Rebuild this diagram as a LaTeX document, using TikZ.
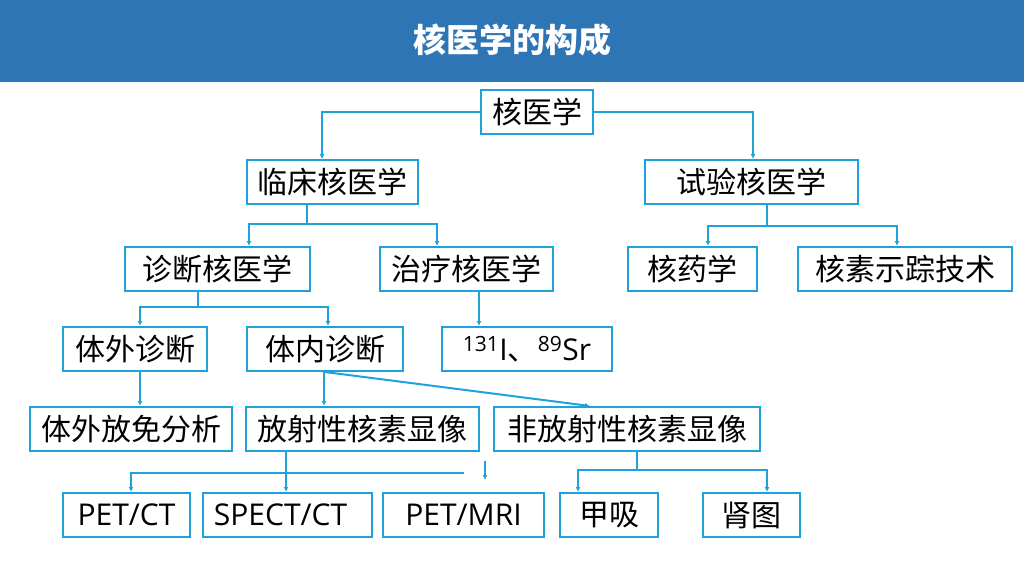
\documentclass[tikz,border=0pt]{standalone}
\usepackage{fontspec}
\newfontfamily\cjk{Noto Sans CJK SC}
\newfontfamily\lat{Open Sans}
\usetikzlibrary{arrows.meta}
\definecolor{lc}{RGB}{30,162,220}
\definecolor{titlebg}{RGB}{46,117,182}
\begin{document}
\begin{tikzpicture}[x=1pt,y=-1pt,
  box/.style={draw=lc, line width=2pt, minimum height=44pt, inner sep=0pt,
    font=\cjk\fontsize{30}{36}\selectfont, text=black},
  latbox/.style={box, font=\lat\fontsize{30}{36}\selectfont},
  ln/.style={draw=lc, line width=2pt},
  arr/.style={draw=lc, line width=2pt, -{Latex[length=5pt,width=5pt]}}]
\useasboundingbox (0,0) rectangle (1024,576);
\fill[white] (0,0) rectangle (1024,576);
\fill[titlebg] (0,0) rectangle (1024,82);
\node[text=white, font=\cjk\bfseries\fontsize{33}{40}\selectfont] (title) at (512,40) {核医学的构成};
% boxes
\node[box, minimum width=112pt] (top) at (537,112) {核医学};
\node[box, minimum width=171pt] (lc) at (332.5,182) {临床核医学};
\node[box, minimum width=213pt] (sy) at (751.5,182) {试验核医学};
\node[box, minimum width=185pt] (zd) at (217.5,269) {诊断核医学};
\node[box, minimum width=173pt] (zl) at (466.5,269) {治疗核医学};
\node[box, minimum width=129pt] (hy) at (692.5,269) {核药学};
\node[box, minimum width=214pt] (hs) at (905,269) {核素示踪技术};
\node[box, minimum width=144pt] (tw) at (135,349) {体外诊断};
\node[box, minimum width=156pt] (tn) at (325,349) {体内诊断};
\node[box, minimum width=170pt] (iso) at (527,349) {{\lat\textsuperscript{131}I}、{\lat\textsuperscript{89}Sr}};
\node[box, minimum width=202pt] (fm) at (131,429) {体外放免分析};
\node[box, minimum width=233pt] (fs) at (362.5,429) {放射性核素显像};
\node[box, minimum width=266pt] (ffs) at (627,429) {非放射性核素显像};
\node[latbox, minimum width=127pt] (pc) at (126.5,515) {PET/CT};
\node[latbox, minimum width=169pt] (sc) at (287.5,515) {\hspace*{-14pt}SPECT/CT};
\node[latbox, minimum width=161pt] (pm) at (463.5,515) {PET/MRI};
\node[box, minimum width=98pt] (jx) at (609,515) {甲吸};
\node[box, minimum width=97pt] (st) at (751.5,515) {肾图};
% junctions
\coordinate (j1) at (307,224);
\coordinate (j2) at (767,226);
\coordinate (j3) at (198,307);
\coordinate (h1) at (286,473);
\coordinate (h2) at (464,473);
\coordinate (j4) at (637,470);
\coordinate (s1) at (485,461);
\coordinate (s2) at (485,480);
% connectors
\draw[arr] (top.west) -| (lc.north -| 322,0);
\draw[arr] (top.east) -| (sy.north -| 753,0);
\draw[ln] (lc.south -| j1) -- (j1);
\draw[arr] (j1) -| (zd.north -| 249,0);
\draw[arr] (j1) -| (zl.north -| 437,0);
\draw[ln] (sy.south -| j2) -- (j2);
\draw[arr] (j2) -| (hy.north -| 708,0);
\draw[arr] (j2) -| (hs.north -| 897,0);
\draw[ln] (zd.south -| j3) -- (j3);
\draw[arr] (j3) -| (tw.north -| 140,0);
\draw[arr] (j3) -| (tn.north -| 328,0);
\draw[arr] (zl.south -| 479,0) -- (iso.north -| 479,0);
\draw[arr] (tw.south -| 140,0) -- (fm.north -| 140,0);
\draw[arr] (tn.south -| 324,0) -- (fs.north -| 324,0);
\draw[arr] (tn.south -| 325,0) -- (ffs.north -| 590,0);
\draw[arr] (fs.south -| h1) -- (sc.north -| h1);
\draw[arr] (h2) -| (pc.north -| 131,0);
\draw[arr] (s1) -- (s2);
\draw[ln] (ffs.south -| j4) -- (j4);
\draw[arr] (j4) -| (jx.north -| 578,0);
\draw[arr] (j4) -| (st.north -| 767,0);
\end{tikzpicture}
\end{document}
